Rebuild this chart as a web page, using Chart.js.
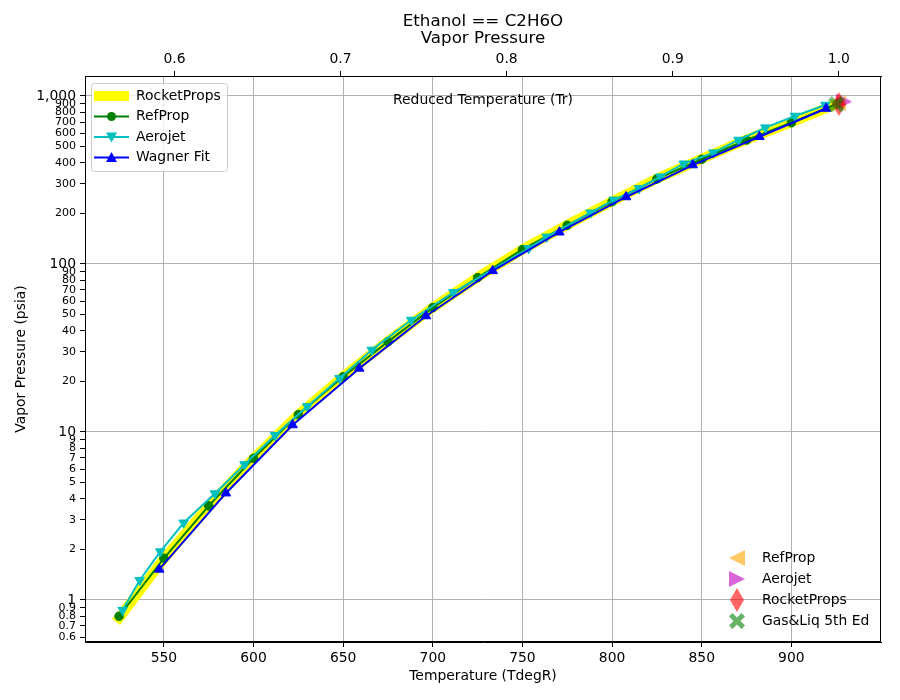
<!DOCTYPE html>
<html>
<head>
<meta charset="utf-8">
<script src="https://cdn.jsdelivr.net/npm/chart.js@4.4.1/dist/chart.umd.min.js"></script>
<style>
  html, body { margin: 0; padding: 0; background: #fff; }
  #wrap { width: 900px; height: 700px; }
</style>
</head>
<body>
<div id="wrap"><canvas id="vp" width="900" height="700"></canvas></div>
<script>
// vapor pressure data (T in degR, P in psia)
var refTemps = [525, 550, 575, 600, 625, 650, 675, 700, 725, 750, 775, 800, 825, 850, 875, 900, 926.5];
var refPress = [0.80, 1.77, 3.63, 6.97, 12.7, 21.3, 34.5, 55.0, 82.9, 122, 170, 235, 321, 420, 547, 693, 909];

var rpTemps = [525, 550, 575, 600, 625, 650, 675, 700, 725, 750, 775, 800, 825, 850, 875, 900, 926.5];
var rpPress = [0.78, 1.76, 3.62, 6.95, 12.7, 21.4, 34.7, 55.0, 83.3, 122, 171, 236, 322, 423, 550, 697, 909];

var aeroTemps = [527, 536.5, 548, 561, 578.5, 595, 612, 630, 648, 666, 688, 711.5, 753.5, 763.5, 788, 801, 815, 827, 840, 856.5, 870.5, 885.5, 902, 919];
var aeroPress = [0.87, 1.31, 1.94, 2.88, 4.3, 6.4, 9.55, 14.2, 20.9, 30.8, 46.4, 67.8, 124, 145, 202, 241, 282, 331, 395, 460, 547, 648, 760, 884];

var wagTemps = [547.4, 584.6, 621.8, 659.0, 696.2, 733.4, 770.6, 807.8, 845.0, 882.2, 919.4];
var wagPress = [1.52, 4.32, 11.0, 23.9, 49.0, 91.0, 154.5, 250.5, 388, 572, 842];

// critical points
var critLabels = ['RefProp', 'Aerojet', 'RocketProps', 'Gas&Liq 5th Ed'];
var critTemps = [926.1, 929.5, 926.5, 925.1];
var critPress = [904, 925, 895, 892];

var tcRankine = 926.5;
var xTicks = [550, 600, 650, 700, 750, 800, 850, 900];
var trTicks = [0.6, 0.7, 0.8, 0.9, 1.0];
var yTicks = [0.6, 0.7, 0.8, 0.9, 1, 2, 3, 4, 5, 6, 7, 8, 9, 10, 20, 30, 40, 50, 60, 70, 80, 90,
              100, 200, 300, 400, 500, 600, 700, 800, 900, 1000];

var FONT = '"DejaVu Sans", sans-serif';
var GRID = '#b0b0b0';

function pts(xs, ys) {
  return xs.map(function(x, i) { return {x: x, y: ys[i]}; });
}

function isDecade(v) {
  var l = Math.log10(v);
  return Math.abs(l - Math.round(l)) < 1e-9;
}

// marker images for the critical points
function markerCanvas(w, h, color, draw) {
  var c = document.createElement('canvas');
  c.width = w; c.height = h;
  var g = c.getContext('2d');
  g.fillStyle = color;
  g.beginPath();
  draw(g, w, h);
  g.closePath();
  g.fill();
  return c;
}
var triLeft = markerCanvas(16, 16, 'rgba(255,165,0,0.6)', function(g, w, h) {
  g.moveTo(0, h / 2); g.lineTo(w, 0); g.lineTo(w, h);
});
var triRight = markerCanvas(16, 16, 'rgba(191,0,191,0.6)', function(g, w, h) {
  g.moveTo(w, h / 2); g.lineTo(0, 0); g.lineTo(0, h);
});
var thinDiamond = markerCanvas(14, 24, 'rgba(255,0,0,0.6)', function(g, w, h) {
  g.moveTo(w / 2, 0); g.lineTo(w, h / 2); g.lineTo(w / 2, h); g.lineTo(0, h / 2);
});
var fatX = markerCanvas(16, 16, 'rgba(0,128,0,0.6)', function(g, w, h) {
  var a = 3.5, s = w / 2;
  var p = [[0, a], [a, 0], [s, s - a], [w - a, 0], [w, a], [s + a, s], [w, h - a], [w - a, h],
           [s, s + a], [a, h], [0, h - a], [s - a, s]];
  g.moveTo(p[0][0], p[0][1]);
  for (var i = 1; i < p.length; i++) g.lineTo(p[i][0], p[i][1]);
});
var critImages = [triLeft, triRight, thinDiamond, fatX];

var datasets = [
  {label: 'RocketProps', data: pts(rpTemps, rpPress), showLine: true, borderColor: '#ffff00',
   borderWidth: 10, pointRadius: 0, borderCapStyle: 'square', borderJoinStyle: 'round', order: 10},
  {label: 'RefProp', data: pts(refTemps, refPress), showLine: true, borderColor: '#008000',
   backgroundColor: '#008000', borderWidth: 2, pointStyle: 'circle', pointRadius: 4.3,
   pointBorderWidth: 1, borderJoinStyle: 'round', order: 9, mk: 'circle'},
  {label: 'Aerojet', data: pts(aeroTemps, aeroPress), showLine: true, borderColor: '#00bfbf',
   backgroundColor: '#00bfbf', borderWidth: 2, pointStyle: 'triangle', pointRotation: 180,
   pointRadius: 5.5, pointBorderWidth: 1, borderJoinStyle: 'round', order: 8, mk: 'down'},
  {label: 'Wagner Fit', data: pts(wagTemps, wagPress), showLine: true, borderColor: '#0000ff',
   backgroundColor: '#0000ff', borderWidth: 2, pointStyle: 'triangle', pointRotation: 0,
   pointRadius: 5.5, pointBorderWidth: 1, borderJoinStyle: 'round', order: 7, mk: 'up'}
];
critLabels.forEach(function(name, i) {
  datasets.push({label: name, data: [{x: critTemps[i], y: critPress[i]}], showLine: false,
    pointStyle: critImages[i], pointRadius: 8, order: 4 - i, crit: true});
});

// titles, inner label, frame and the two legends
var decorPlugin = {
  id: 'decor',
  afterDraw: function(chart) {
    var ctx = chart.ctx, a = chart.chartArea;
    var cx = (a.left + a.right) / 2;
    ctx.save();
    ctx.fillStyle = '#000';
    ctx.textAlign = 'center';
    ctx.textBaseline = 'middle';
    ctx.font = '16.7px ' + FONT;
    ctx.fillText('Ethanol == C2H6O', cx, 22);
    ctx.fillText('Vapor Pressure', cx, 39);
    ctx.font = '13.9px ' + FONT;
    ctx.fillText('Reduced Temperature (Tr)', cx, a.top + 24);

    ctx.strokeStyle = '#000';
    ctx.lineWidth = 1;
    ctx.strokeRect(Math.round(a.left) + 0.5, Math.round(a.top) + 0.5,
                   Math.round(a.right - a.left) - 1, Math.round(a.bottom - a.top) - 1);

    // upper-left legend
    var bx = a.left + 6.5, by = a.top + 7.5, bw = 136, bh = 88, r = 3;
    ctx.beginPath();
    ctx.moveTo(bx + r, by);
    ctx.arcTo(bx + bw, by, bx + bw, by + bh, r);
    ctx.arcTo(bx + bw, by + bh, bx, by + bh, r);
    ctx.arcTo(bx, by + bh, bx, by, r);
    ctx.arcTo(bx, by, bx + bw, by, r);
    ctx.closePath();
    ctx.fillStyle = 'rgba(255,255,255,0.8)';
    ctx.fill();
    ctx.strokeStyle = '#cccccc';
    ctx.stroke();

    ctx.textAlign = 'left';
    var lines = chart.data.datasets.filter(function(d) { return !d.crit; });
    lines.forEach(function(d, i) {
      var y = a.top + 20 + i * 20.5;
      var x0 = a.left + 9, x1 = a.left + 44, xm = (x0 + x1) / 2;
      ctx.strokeStyle = d.borderColor;
      ctx.lineWidth = d.borderWidth;
      ctx.beginPath(); ctx.moveTo(x0, y); ctx.lineTo(x1, y); ctx.stroke();
      ctx.fillStyle = d.borderColor;
      var s = 5.5;
      if (d.mk === 'circle') {
        ctx.beginPath(); ctx.arc(xm, y, 4.5, 0, Math.PI * 2); ctx.fill();
      } else if (d.mk === 'down') {
        ctx.beginPath(); ctx.moveTo(xm - s, y - s * 0.8); ctx.lineTo(xm + s, y - s * 0.8);
        ctx.lineTo(xm, y + s); ctx.closePath(); ctx.fill();
      } else if (d.mk === 'up') {
        ctx.beginPath(); ctx.moveTo(xm - s, y + s * 0.8); ctx.lineTo(xm + s, y + s * 0.8);
        ctx.lineTo(xm, y - s); ctx.closePath(); ctx.fill();
      }
      ctx.fillStyle = '#000';
      ctx.fillText(d.label, a.left + 51, y);
    });

    // lower-right legend (critical points, no frame)
    var crits = chart.data.datasets.filter(function(d) { return d.crit; });
    crits.forEach(function(d, i) {
      var y = a.bottom - 84 + i * 21;
      var img = d.pointStyle;
      ctx.drawImage(img, a.right - 144 - img.width / 2, y - img.height / 2);
      ctx.fillStyle = '#000';
      ctx.fillText(d.label, a.right - 119, y);
    });
    ctx.restore();
  }
};

new Chart(document.getElementById('vp'), {
  type: 'scatter',
  data: {datasets: datasets},
  options: {
    responsive: false,
    animation: false,
    devicePixelRatio: 1,
    layout: {padding: {left: 0, right: 19, top: 0, bottom: 0}},
    plugins: {legend: {display: false}, tooltip: {enabled: false}},
    scales: {
      x: {
        type: 'linear', position: 'bottom', min: 506, max: 950,
        afterBuildTicks: function(s) { s.ticks = xTicks.map(function(v) { return {value: v}; }); },
        afterFit: function(s) { s.height = 58; },
        grid: {color: GRID, tickColor: '#000', tickLength: 5, lineWidth: 1},
        border: {display: true, color: '#000'},
        ticks: {color: '#000', font: {family: FONT, size: 13.9}, padding: 3, maxRotation: 0,
                autoSkip: false},
        title: {display: true, text: 'Temperature (TdegR)', color: '#000',
                font: {family: FONT, size: 13.9}, padding: {top: 0, bottom: 15}}
      },
      x2: {
        type: 'linear', position: 'top', min: 506 / tcRankine, max: 950 / tcRankine,
        afterBuildTicks: function(s) { s.ticks = trTicks.map(function(v) { return {value: v}; }); },
        afterFit: function(s) { s.height = 76; },
        grid: {drawOnChartArea: false, tickColor: '#000', tickLength: 5},
        border: {display: true, color: '#000'},
        ticks: {color: '#000', font: {family: FONT, size: 13.9}, padding: 3, maxRotation: 0,
                autoSkip: false, callback: function(v) { return Number(v).toFixed(1); }}
      },
      y: {
        type: 'logarithmic', position: 'left', min: 0.562, max: 1315,
        afterBuildTicks: function(s) { s.ticks = yTicks.map(function(v) { return {value: v}; }); },
        afterFit: function(s) { s.width = 85; },
        grid: {
          color: function(c) { return c.tick && isDecade(c.tick.value) ? GRID : 'rgba(0,0,0,0)'; },
          tickColor: '#000', tickLength: 5
        },
        border: {display: true, color: '#000'},
        ticks: {
          color: '#000', padding: 4, autoSkip: false,
          font: function(c) {
            return {family: FONT, size: c.tick && isDecade(c.tick.value) ? 13.9 : 11};
          },
          callback: function(v) { return Number(v).toLocaleString('en-US'); }
        },
        title: {display: true, text: 'Vapor Pressure (psia)', color: '#000',
                font: {family: FONT, size: 13.9}, padding: {top: 13, bottom: 0}}
      }
    }
  },
  plugins: [decorPlugin]
});
</script>
</body>
</html>
